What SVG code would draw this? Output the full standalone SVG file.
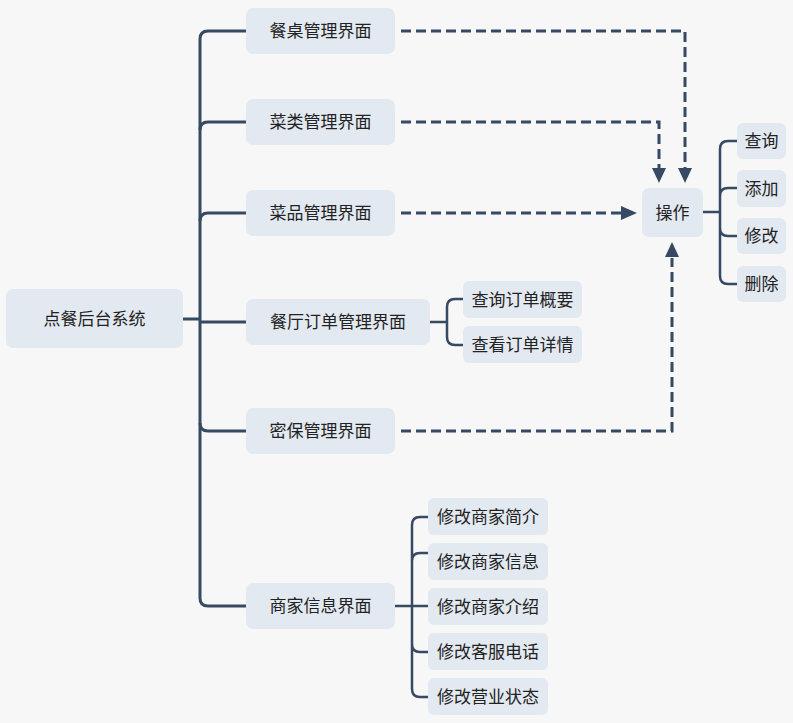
<svg xmlns="http://www.w3.org/2000/svg" width="793" height="723" viewBox="0 0 793 723">
<defs>
<style>
.bg{fill:#f7f7f7}
.n rect{fill:#e2e9f1}
.n text{font-family:"Noto Sans CJK SC","Noto Sans",sans-serif;font-size:17px;fill:#222;text-anchor:middle;dominant-baseline:central}
.c{fill:none;stroke:#374a63;stroke-width:3;stroke-linecap:butt}
.t{fill:none;stroke:#374a63;stroke-width:2.5}
.d{fill:none;stroke:#374a63;stroke-width:3;stroke-dasharray:10 5}
</style>
</defs>
<rect class="bg" x="0" y="0" width="793" height="723"/>
<g id="connectors">
<path class="c" d="M183 319 H200"/>
<path class="c" d="M246 31 H208 Q200 31 200 39 V598 Q200 606 208 606 H246"/>
<path class="c" d="M200 130 Q200 122 208 122 H246"/>
<path class="c" d="M200 221 Q200 213 208 213 H246"/>
<path class="c" d="M200 322 H246"/>
<path class="c" d="M200 423 Q200 431 208 431 H246"/>
<path class="t" d="M430 322 H447 M463 299 H455 Q447 299 447 307 V337 Q447 345 455 345 H463"/>
<path class="t" d="M395 606 H412 M428 517 H420 Q412 517 412 525 V689 Q412 697 420 697 H428 M412 561 Q412 553 420 553 H428 M412 606 H428 M412 644 Q412 652 420 652 H428"/>
<path class="t" d="M703 212 H720 M737 141 H728 Q720 141 720 149 V276 Q720 284 728 284 H737 M720 196 Q720 188 728 188 H737 M720 228 Q720 236 728 236 H737"/>
<path class="d" d="M401 31 H685 V170"/>
<path d="M678 168 L692 168 L685 183 z" fill="#374a63"/>
<path class="d" d="M401 122 H659 V170"/>
<path d="M652 168 L666 168 L659 183 z" fill="#374a63"/>
<path class="d" d="M401 213 H623"/>
<path d="M621 206 L621 220 L637 213 z" fill="#374a63"/>
<path class="d" d="M401 431 H672 V258"/>
<path d="M665 257 L679 257 L672 242 z" fill="#374a63"/>
</g>
<g id="root" class="n"><rect x="6" y="289" width="177" height="59" rx="7"/><text x="94.5" y="317.5">点餐后台系统</text></g>
<g id="n1" class="n"><rect x="246" y="8" width="149" height="46" rx="7"/><text x="320.5" y="29.5">餐桌管理界面</text></g>
<g id="n2" class="n"><rect x="246" y="99" width="149" height="46" rx="7"/><text x="320.5" y="120.5">菜类管理界面</text></g>
<g id="n3" class="n"><rect x="246" y="190" width="149" height="46" rx="7"/><text x="320.5" y="211.5">菜品管理界面</text></g>
<g id="n4" class="n"><rect x="246" y="299" width="184" height="46" rx="7"/><text x="338" y="320.5">餐厅订单管理界面</text></g>
<g id="n5" class="n"><rect x="246" y="408" width="149" height="46" rx="7"/><text x="320.5" y="429.5">密保管理界面</text></g>
<g id="n6" class="n"><rect x="246" y="583" width="149" height="46" rx="7"/><text x="320.5" y="604.5">商家信息界面</text></g>
<g id="o1" class="n"><rect x="463" y="281" width="119" height="37" rx="6"/><text x="522.5" y="298">查询订单概要</text></g>
<g id="o2" class="n"><rect x="463" y="326" width="119" height="37" rx="6"/><text x="522.5" y="343">查看订单详情</text></g>
<g id="op" class="n"><rect x="642" y="188" width="61" height="49" rx="7"/><text x="672.5" y="211">操作</text></g>
<g id="p1" class="n"><rect x="737" y="123" width="49" height="36" rx="6"/><text x="761.5" y="139.5">查询</text></g>
<g id="p2" class="n"><rect x="737" y="170" width="49" height="37" rx="6"/><text x="761.5" y="187">添加</text></g>
<g id="p3" class="n"><rect x="737" y="218" width="49" height="36" rx="6"/><text x="761.5" y="234.5">修改</text></g>
<g id="p4" class="n"><rect x="737" y="266" width="49" height="36" rx="6"/><text x="761.5" y="282.5">删除</text></g>
<g id="m1" class="n"><rect x="428" y="498" width="120" height="37" rx="6"/><text x="488" y="515">修改商家简介</text></g>
<g id="m2" class="n"><rect x="428" y="543" width="120" height="37" rx="6"/><text x="488" y="560">修改商家信息</text></g>
<g id="m3" class="n"><rect x="428" y="588" width="120" height="37" rx="6"/><text x="488" y="605">修改商家介绍</text></g>
<g id="m4" class="n"><rect x="428" y="633" width="120" height="37" rx="6"/><text x="488" y="650">修改客服电话</text></g>
<g id="m5" class="n"><rect x="428" y="678" width="120" height="37" rx="6"/><text x="488" y="695">修改营业状态</text></g>
</svg>
